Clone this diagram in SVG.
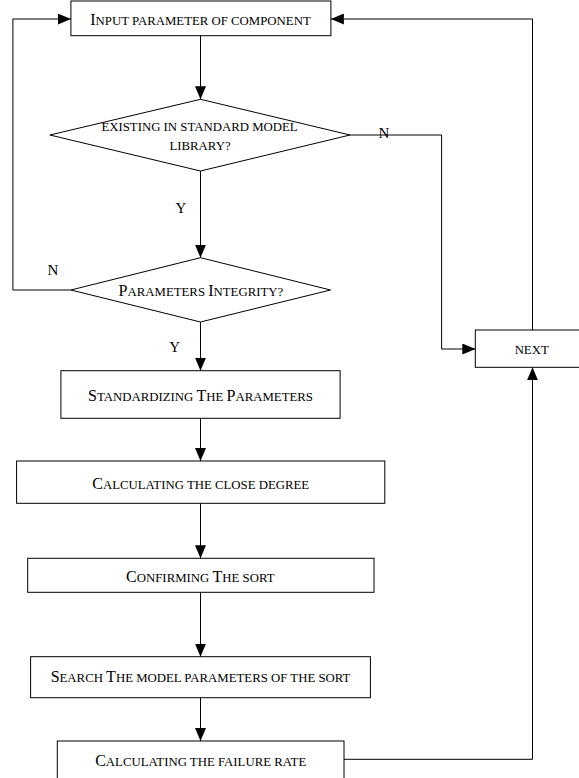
<svg xmlns="http://www.w3.org/2000/svg" width="579" height="778" viewBox="0 0 579 778">
<style>
.box{fill:#fff;stroke:#000;stroke-width:1}
.con{fill:none;stroke:#000;stroke-width:1}
text{font-family:"Liberation Serif","Times New Roman",serif;fill:#000;text-anchor:middle}
.t{font-size:12.8px}
.b{font-size:16px}
.lbl{font-size:15px}
</style>
<defs>
<marker id="ah" markerUnits="userSpaceOnUse" markerWidth="13" markerHeight="11" refX="13" refY="5.5" orient="auto">
<path d="M0,0 L13,5.5 L0,11 z" fill="#000"/>
</marker>
</defs>
<g id="connectors">
<path class="con" d="M200.5,35.7 V99.3" marker-end="url(#ah)"/>
<path class="con" d="M200.5,171 V257.7" marker-end="url(#ah)"/>
<path class="con" d="M200.5,322 V370.7" marker-end="url(#ah)"/>
<path class="con" d="M200.5,418.3 V461" marker-end="url(#ah)"/>
<path class="con" d="M200.5,503.3 V558.3" marker-end="url(#ah)"/>
<path class="con" d="M200.5,592.3 V656.7" marker-end="url(#ah)"/>
<path class="con" d="M200.5,697.7 V741" marker-end="url(#ah)"/>
<path class="con" d="M350,135 H441.6 V349 H475.3" marker-end="url(#ah)"/>
<path class="con" d="M70.9,290 H12.9 V19 H70.9" marker-end="url(#ah)"/>
<path class="con" d="M532.5,330 V19 H330.9" marker-end="url(#ah)"/>
<path class="con" d="M344,759.3 H532.5 V367.3" marker-end="url(#ah)"/>
<text class="lbl" x="384" y="137.5">N</text>
<text class="lbl" x="181" y="213">Y</text>
<text class="lbl" x="52.8" y="275">N</text>
<text class="lbl" x="174.7" y="351.5">Y</text>
</g>
<g id="input">
<rect class="box" x="70.9" y="1" width="260" height="34.7"/>
<text class="t" x="200.5" y="25"><tspan class="b">I</tspan>NPUT PARAMETER OF COMPONENT</text>
</g>
<g id="existing">
<polygon class="box" points="200.5,99.3 350,135 200.5,171 49.9,135"/>
<text class="t" x="199.5" y="131">EXISTING IN STANDARD MODEL</text>
<text class="t" x="200" y="150">LIBRARY?</text>
</g>
<g id="integrity">
<polygon class="box" points="200.5,257.7 330.5,290 200.5,322 70.9,290"/>
<text class="t" x="200.9" y="296"><tspan class="b">P</tspan>ARAMETERS <tspan class="b">I</tspan>NTEGRITY?</text>
</g>
<g id="next">
<rect class="box" x="475.3" y="330" width="120" height="37.3"/>
<text class="t" x="531.7" y="354">NEXT</text>
</g>
<g id="standardizing">
<rect class="box" x="60.9" y="370.7" width="279.2" height="47.6"/>
<text class="t" x="200.5" y="400.7"><tspan class="b">S</tspan>TANDARDIZING <tspan class="b">T</tspan>HE <tspan class="b">P</tspan>ARAMETERS</text>
</g>
<g id="closedegree">
<rect class="box" x="16.6" y="461" width="368.2" height="42.3"/>
<text class="t" x="200.7" y="489"><tspan class="b">C</tspan>ALCULATING THE CLOSE DEGREE</text>
</g>
<g id="confirming">
<rect class="box" x="27.7" y="558.3" width="346.3" height="34"/>
<text class="t" x="200.3" y="581.7"><tspan class="b">C</tspan>ONFIRMING <tspan class="b">T</tspan>HE SORT</text>
</g>
<g id="search">
<rect class="box" x="30.6" y="656.7" width="339.8" height="41"/>
<text class="t" x="200.5" y="682"><tspan class="b">S</tspan>EARCH <tspan class="b">T</tspan>HE MODEL PARAMETERS OF THE SORT</text>
</g>
<g id="failurerate">
<rect class="box" x="57.3" y="741" width="286.7" height="45"/>
<text class="t" x="200.7" y="765.7"><tspan class="b">C</tspan>ALCULATING THE FAILURE RATE</text>
</g>
</svg>
